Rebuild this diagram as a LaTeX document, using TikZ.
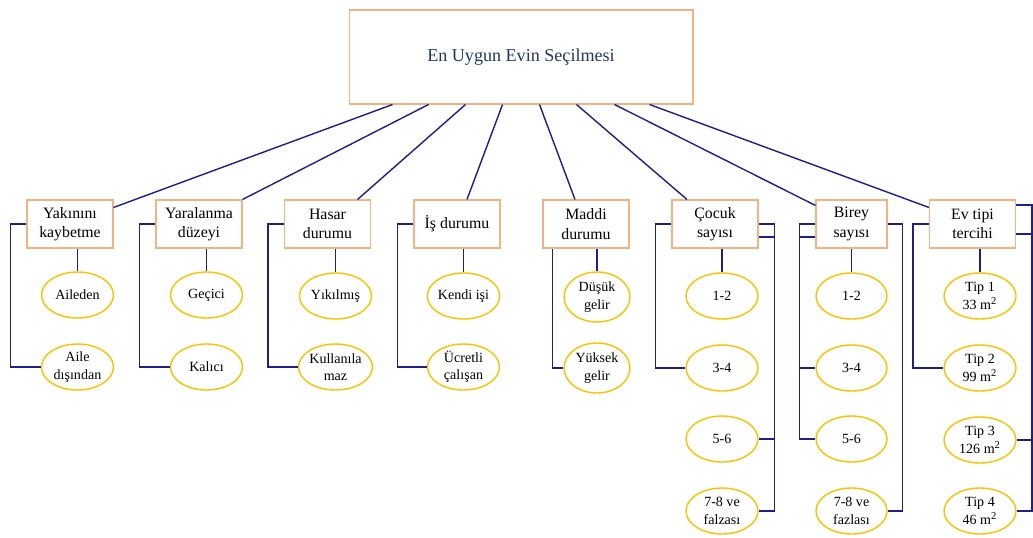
\documentclass[tikz,border=0pt]{standalone}
\usepackage{fontspec}
\setmainfont{Liberation Serif}
\usetikzlibrary{shapes.geometric,calc}
\definecolor{boxline}{RGB}{244,177,131}
\definecolor{optline}{RGB}{255,192,0}
\definecolor{linkline}{RGB}{30,30,140}
\definecolor{titletext}{RGB}{32,56,100}
\begin{document}
\begin{tikzpicture}[x=0.02cm,y=-0.02cm,
    crit/.style={draw=boxline,line width=0.6pt,rectangle,minimum width=1.72cm,
        minimum height=0.96cm,inner sep=0pt,align=center,
        font=\fontsize{9}{11}\selectfont},
    opt/.style={draw=optline,line width=0.8pt,ellipse,minimum width=1.44cm,
        minimum height=0.92cm,inner sep=0pt,align=center,
        font=\fontsize{8}{10}\selectfont},
    link/.style={draw=linkline,line width=0.8pt}]
    \useasboundingbox (0,0) rectangle (1033,537);

    % root
    \node[draw=boxline,line width=0.6pt,minimum width=6.88cm,minimum height=1.88cm,
        text=titletext,font=\fontsize{10.3}{12}\selectfont] (root) at (521,57)
        {En Uygun Evin Seçilmesi};

    % criteria
    \node[crit] (k1) at (70,224) {Yakınını\\kaybetme};
    \node[crit] (k2) at (199,224) {Yaralanma\\düzeyi};
    \node[crit] (k3) at (327.5,224) {Hasar\\durumu};
    \node[crit] (k4) at (457,224) {İş durumu};
    \node[crit] (k5) at (586,224) {Maddi\\durumu};
    \node[crit] (k6) at (715,224) {Çocuk\\sayısı};
    \node[crit,minimum width=1.42cm] (k7) at (851.5,224) {Birey\\sayısı};
    \node[crit] (k8) at (972.5,224) {Ev tipi\\tercihi};

    % root to criteria
    \draw[link] (root.south west) ++(44,0) -- ($(k1.north east)+(0,8)$);
    \draw[link] (root.south west) ++(80,0) -- (k2.north east);
    \draw[link] (root.south west) ++(117,0) -- ($(k3.north)+(30,0)$);
    \draw[link] (root.south west) ++(154,0) -- ($(k4.north)+(10,0)$);
    \draw[link] (root.south west) ++(191,0) -- ($(k5.north)+(-11,0)$);
    \draw[link] (root.south west) ++(228,0) -- ($(k6.north)+(-28,0)$);
    \draw[link] (root.south west) ++(266,0) -- ($(k7.north west)+(0,6)$);
    \draw[link] (root.south west) ++(301,0) -- ($(k8.north west)+(0,8)$);

    % options
    \node[opt] (o11) at (77.5,295) {Aileden};
    \node[opt] (o12) at (77.5,367) {Aile\\dışından};
    \node[opt] (o21) at (206.5,295) {Geçici};
    \node[opt] (o22) at (206.5,367) {Kalıcı};
    \node[opt] (o31) at (335.5,296) {Yıkılmış};
    \node[opt] (o32) at (335.5,367) {Kullanıla\\maz};
    \node[opt] (o41) at (463.5,296) {Kendi işi};
    \node[opt] (o42) at (463.5,367) {Ücretli\\çalışan};
    \node[opt,minimum width=1.32cm,minimum height=1cm] (o51) at (597,297) {Düşük\\gelir};
    \node[opt,minimum width=1.32cm,minimum height=1cm] (o52) at (597,368) {Yüksek\\gelir};
    \node[opt] (o61) at (722,296) {1-2};
    \node[opt] (o62) at (722,368) {3-4};
    \node[opt] (o63) at (722,439) {5-6};
    \node[opt] (o64) at (722,511) {7-8 ve\\falzası};
    \node[opt,minimum width=1.42cm] (o71) at (851.5,296) {1-2};
    \node[opt,minimum width=1.42cm] (o72) at (851.5,368) {3-4};
    \node[opt,minimum width=1.42cm] (o73) at (851.5,439) {5-6};
    \node[opt,minimum width=1.42cm] (o74) at (851.5,511) {7-8 ve\\fazlası};
    \node[opt] (o81) at (980,296) {Tip 1\\33 m\textsuperscript{2}};
    \node[opt] (o82) at (980,368) {Tip 2\\99 m\textsuperscript{2}};
    \node[opt] (o83) at (980,440) {Tip 3\\126 m\textsuperscript{2}};
    \node[opt] (o84) at (980,511) {Tip 4\\46 m\textsuperscript{2}};

    % stems
    \draw[link] (o11.north) -- (o11.north |- k1.south);
    \draw[link] (o21.north) -- (o21.north |- k2.south);
    \draw[link] (o31.north) -- (o31.north |- k3.south);
    \draw[link] (o41.north) -- (o41.north |- k4.south);
    \draw[link] (o51.north) -- (o51.north |- k5.south);
    \draw[link] (o61.north) -- (o61.north |- k6.south);
    \draw[link] (o71.north) -- (o71.north |- k7.south);
    \draw[link] (o81.north) -- (o81.north |- k8.south);

    % brackets
    \draw[link] (k1.west) -- ++(-16,0) |- (o12.west);
    \draw[link] (k2.west) -- ++(-16,0) |- (o22.west);
    \draw[link] (k3.west) -- ++(-16,0) |- (o32.west);
    \draw[link] (k4.west) -- ++(-16,0) |- (o42.west);
    \draw[link] (o52.west) -| ($(k5.south west)+(10,0)$);
    \draw[link] (k6.west) -- ++(-16,0) |- (o62.west);
    \draw[link] (k6.east) -- ++(16,0) |- (o63.east);
    \draw[link] ($(k6.east)+(0,13)$) -- ++(16,0) |- (o64.east);
    \draw[link] (k7.west) -- ++(-16,0) |- (o73.west);
    \draw[link] ($(k7.west)+(0,13)$) -- ++(-16,0) |- (o72.west);
    \draw[link] (k7.east) -- ++(15,0) |- (o74.east);
    \draw[link] (k8.west) -- ++(-16,0) |- (o82.west);
    \draw[link] ($(k8.east)+(0,-19)$) -- ++(16,0) |- (o84.east);
    \draw[link] ($(k8.east)+(0,10)$) -- ++(16,0) |- (o83.east);
\end{tikzpicture}
\end{document}
